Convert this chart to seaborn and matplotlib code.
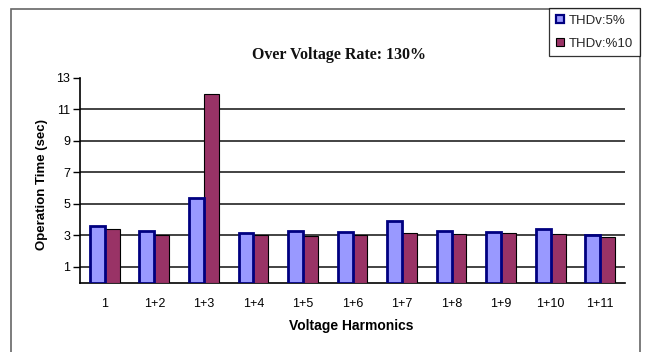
import matplotlib
matplotlib.use("Agg")
import matplotlib.pyplot as plt
from matplotlib.patches import Patch, Rectangle
import numpy as np
import pandas as pd
import seaborn as sns

# Harmonic combinations on the x axis
categories = ["1", "1+2", "1+3", "1+4", "1+5", "1+6", "1+7", "1+8", "1+9", "1+10", "1+11"]
# Operation time (sec) for each distortion level
thd_5 = [3.6, 3.3, 5.4, 3.15, 3.3, 3.25, 3.9, 3.3, 3.25, 3.4, 3.05]
thd_10 = [3.4, 3.05, 12.0, 3.05, 2.95, 3.05, 3.15, 3.1, 3.15, 3.1, 2.9]
series_names = ["THDv:5%", "THDv:%10"]
y_ticks = [1, 3, 5, 7, 9, 11, 13]

df = pd.DataFrame({
    "harmonics": categories * 2,
    "time": thd_5 + thd_10,
    "series": [series_names[0]] * len(categories) + [series_names[1]] * len(categories),
})

face_colors = ["#9999FF", "#993366"]
edge_colors = ["#000080", "#000000"]
edge_widths = [2.0, 0.8]

sns.set_theme(style="white")
plt.rcParams["font.family"] = ["Liberation Sans", "DejaVu Sans"]

W, H = 647, 352
fig = plt.figure(figsize=(W / 100, H / 100), dpi=100)
fig.patch.set_facecolor("white")

ax = fig.add_axes([80 / W, 1 - 282.7 / H, 545 / W, (282.7 - 78) / H])
sns.barplot(data=df, x="harmonics", y="time", hue="series", order=categories,
            hue_order=series_names, palette=face_colors, width=0.6, gap=0,
            saturation=1, ax=ax, legend=False, zorder=3)

for cont, ec, lw, z in zip(ax.containers, edge_colors, edge_widths, [4, 3]):
    for bar in cont:
        bar.set_edgecolor(ec)
        bar.set_linewidth(lw)
        bar.set_zorder(z)

ax.set_ylim(0, 13)
ax.set_xlim(-0.5, len(categories) - 0.5)
ax.set_yticks(y_ticks)
ax.set_yticklabels([str(t) for t in y_ticks], fontsize=9, color="black")
ax.set_xticks(range(len(categories)))
ax.set_xticklabels(categories, fontsize=9, color="black")
ax.set_xlabel("")
ax.set_ylabel("")

# horizontal gridlines below the bars, none at the top value
ax.set_axisbelow(True)
for t in y_ticks[:-1]:
    ax.axhline(t, color="#222222", lw=1.2, zorder=1)

# category-boundary tick marks on the x axis
ax.set_xticks(np.arange(-0.5, len(categories), 1.0), minor=True)
ax.tick_params(axis="x", which="major", length=0, pad=11)
ax.tick_params(axis="x", which="minor", length=7.5, width=1, color="black", direction="out")
ax.tick_params(axis="y", which="major", length=5, width=1, color="black", direction="out", pad=2, left=True)

for side in ["top", "right"]:
    ax.spines[side].set_visible(False)
for side in ["left", "bottom"]:
    ax.spines[side].set_color("black")
    ax.spines[side].set_linewidth(1.2)

# chart-area border
fig.patches.append(Rectangle((11 / W, -0.05), (640 - 11) / W, 1.05 - 9 / H,
                             transform=fig.transFigure, fill=False,
                             edgecolor="#666666", lw=1.2, zorder=0))

fig.text(339 / W, 1 - 55 / H, "Over Voltage Rate: 130%", family="Liberation Serif",
         weight="bold", fontsize=11.5, ha="center", va="center", color="#111111")
fig.text(41.7 / W, 1 - 184 / H, "Operation Time (sec)", rotation=90, weight="bold",
         fontsize=9.5, ha="center", va="center", color="black")
fig.text(351 / W, 1 - 326 / H, "Voltage Harmonics", weight="bold", fontsize=10,
         ha="center", va="center", color="black")

handles = [Patch(facecolor=fc, edgecolor=ec, lw=lw)
           for fc, ec, lw in zip(face_colors, edge_colors, [1.6, 0.8])]
leg = fig.legend(handles, series_names, loc="upper right",
                 bbox_to_anchor=(640 / W, 1 - 8 / H), borderaxespad=0,
                 frameon=True, fancybox=False, fontsize=9.5,
                 handlelength=0.6, handleheight=0.6, handletextpad=0.4,
                 labelspacing=0.85, borderpad=0.5)
leg.get_frame().set_edgecolor("black")
leg.get_frame().set_linewidth(0.9)

fig.savefig("out.png", dpi=100, facecolor="white")
